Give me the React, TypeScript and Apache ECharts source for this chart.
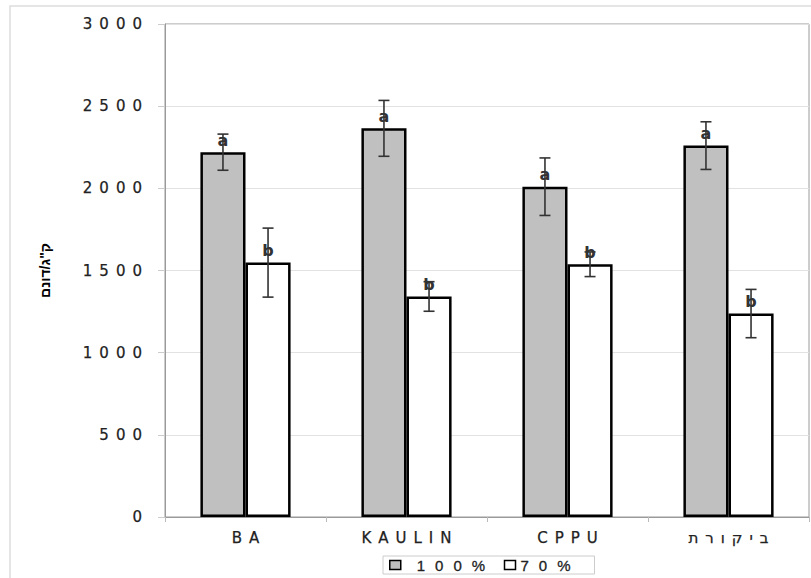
import React, { useEffect, useRef } from "react";
import * as echarts from "echarts";

const categories = ["BA", "KAULIN", "CPPU", "ביקורת"];
const values100 = [2220, 2365, 2010, 2260];
const values70 = [1548, 1342, 1538, 1238];
const err100 = [110, 170, 175, 145];
const err70 = [210, 90, 75, 147];
const letters100 = ["a", "a", "a", "a"];
const letters70 = ["b", "b", "b", "b"];
const yTicks = { min: 0, max: 3000, interval: 500 };
const seriesNames = ["100%", "70%"];
const yName = 'ק"ג/דונם';

const BAR_W = 0.28;

function errData(vals: number[], errs: number[]) {
  return vals.map((v, i) => [i, v - errs[i], v + errs[i]]);
}

function makeErrRender(sign: number) {
  return (params: any, api: any) => {
    const x = api.value(0);
    const lo = api.value(1);
    const hi = api.value(2);
    const band = api.size([1, 0])[0];
    const off = (sign * band * BAR_W) / 2;
    const top = api.coord([x, hi]);
    const bot = api.coord([x, lo]);
    const cx = top[0] + off;
    const cap = 5.5;
    const style = { stroke: "#333", lineWidth: 1.6 };
    return {
      type: "group",
      children: [
        { type: "line", shape: { x1: cx, y1: top[1], x2: cx, y2: bot[1] }, style },
        { type: "line", shape: { x1: cx - cap, y1: top[1], x2: cx + cap, y2: top[1] }, style },
        { type: "line", shape: { x1: cx - cap, y1: bot[1], x2: cx + cap, y2: bot[1] }, style },
      ],
    };
  };
}

export default function App() {
  const ref = useRef<HTMLDivElement>(null);
  useEffect(() => {
    if (!ref.current) return;
    const chart = echarts.init(ref.current, undefined, { renderer: "svg" });
    const font = "DejaVu Sans";
    chart.setOption({
      animation: false,
      backgroundColor: "#fff",
      graphic: [
        {
          type: "rect",
          z: -10,
          shape: { x: 10, y: 6, width: 900, height: 700 },
          style: { fill: "none", stroke: "#dddddd", lineWidth: 1.5 },
        },
      ],
      grid: {
        left: 165,
        right: 2,
        top: 24,
        bottom: 61,
        show: true,
        borderColor: "#9a9a9a",
        borderWidth: 1,
      },
      legend: {
        left: 383,
        top: 556,
        padding: [1, 6],
        itemGap: 13,
        itemWidth: 11,
        itemHeight: 9,
        icon: "rect",
        borderColor: "#cccccc",
        borderWidth: 1,
        textStyle: { fontFamily: "Liberation Sans", fontSize: 15, color: "#222", lineHeight: 16 },
        data: [
          {
            name: seriesNames[0],
            itemStyle: { color: "#c0c0c0", borderColor: "#000", borderWidth: 1.5 },
            textStyle: { width: 74, padding: [0, 0, 0, 11] },
          },
          {
            name: seriesNames[1],
            itemStyle: { color: "#fff", borderColor: "#000", borderWidth: 1.5 },
            textStyle: { width: 68 },
          },
        ],
      },
      xAxis: {
        type: "category",
        data: categories,
        axisLine: { show: true, lineStyle: { color: "#9a9a9a" } },
        axisTick: { show: true, length: 5, lineStyle: { color: "#bbbbbb" } },
        axisLabel: {
          fontFamily: font,
          fontSize: 15,
          color: "#222",
          margin: 13,
          padding: [0, 0, 0, 7],
        },
      },
      yAxis: {
        type: "value",
        min: yTicks.min,
        max: yTicks.max,
        interval: yTicks.interval,
        name: yName,
        nameLocation: "middle",
        nameRotate: 90,
        nameGap: 113,
        nameTextStyle: { fontFamily: "Liberation Sans", fontWeight: "bold", fontSize: 14, color: "#000" },
        axisLine: { show: true, lineStyle: { color: "#9a9a9a" } },
        axisTick: { show: true, length: 7, lineStyle: { color: "#cccccc" } },
        axisLabel: {
          fontFamily: font,
          fontSize: 15,
          color: "#222",
          margin: 16,
          formatter: (v: number) => String(v),
        },
        splitLine: { show: true, lineStyle: { color: "#e2e2e2" } },
      },
      series: [
        {
          name: seriesNames[0],
          type: "bar",
          data: values100,
          barWidth: BAR_W * 100 + "%",
          barGap: "0%",
          itemStyle: { color: "#c0c0c0", borderColor: "#000", borderWidth: 2.5 },
          label: {
            show: true,
            position: "top",
            distance: 4,
            formatter: (p: any) => letters100[p.dataIndex],
            fontFamily: "DejaVu Sans",
            fontWeight: "bold",
            fontSize: 16,
            color: "#333",
          },
        },
        {
          name: seriesNames[1],
          type: "bar",
          data: values70,
          barWidth: BAR_W * 100 + "%",
          barGap: "0%",
          itemStyle: { color: "#ffffff", borderColor: "#000", borderWidth: 2.5 },
          label: {
            show: true,
            position: "top",
            distance: 4,
            formatter: (p: any) => letters70[p.dataIndex],
            fontFamily: "DejaVu Sans",
            fontWeight: "bold",
            fontSize: 16,
            color: "#333",
          },
        },
        {
          type: "custom",
          name: "err100",
          renderItem: makeErrRender(-1),
          data: errData(values100, err100),
          encode: { x: 0, y: [1, 2] },
          z: 5,
          silent: true,
        },
        {
          type: "custom",
          name: "err70",
          renderItem: makeErrRender(1),
          data: errData(values70, err70),
          encode: { x: 0, y: [1, 2] },
          z: 5,
          silent: true,
        },
      ],
    });
    return () => chart.dispose();
  }, []);
  return (
    <>
      <style>{`
        text[style*="DejaVu Sans"]:not([style*="bold"]){letter-spacing:7px;stroke:#222;stroke-width:0.25px;}
        text[style*="Liberation Sans"]:not([style*="bold"]){letter-spacing:10px;stroke:#222;stroke-width:0.3px;}
      `}</style>
      <div
        ref={ref}
        style={{ position: "fixed", left: 0, top: 0, width: 811, height: 578 }}
      />
    </>
  );
}
